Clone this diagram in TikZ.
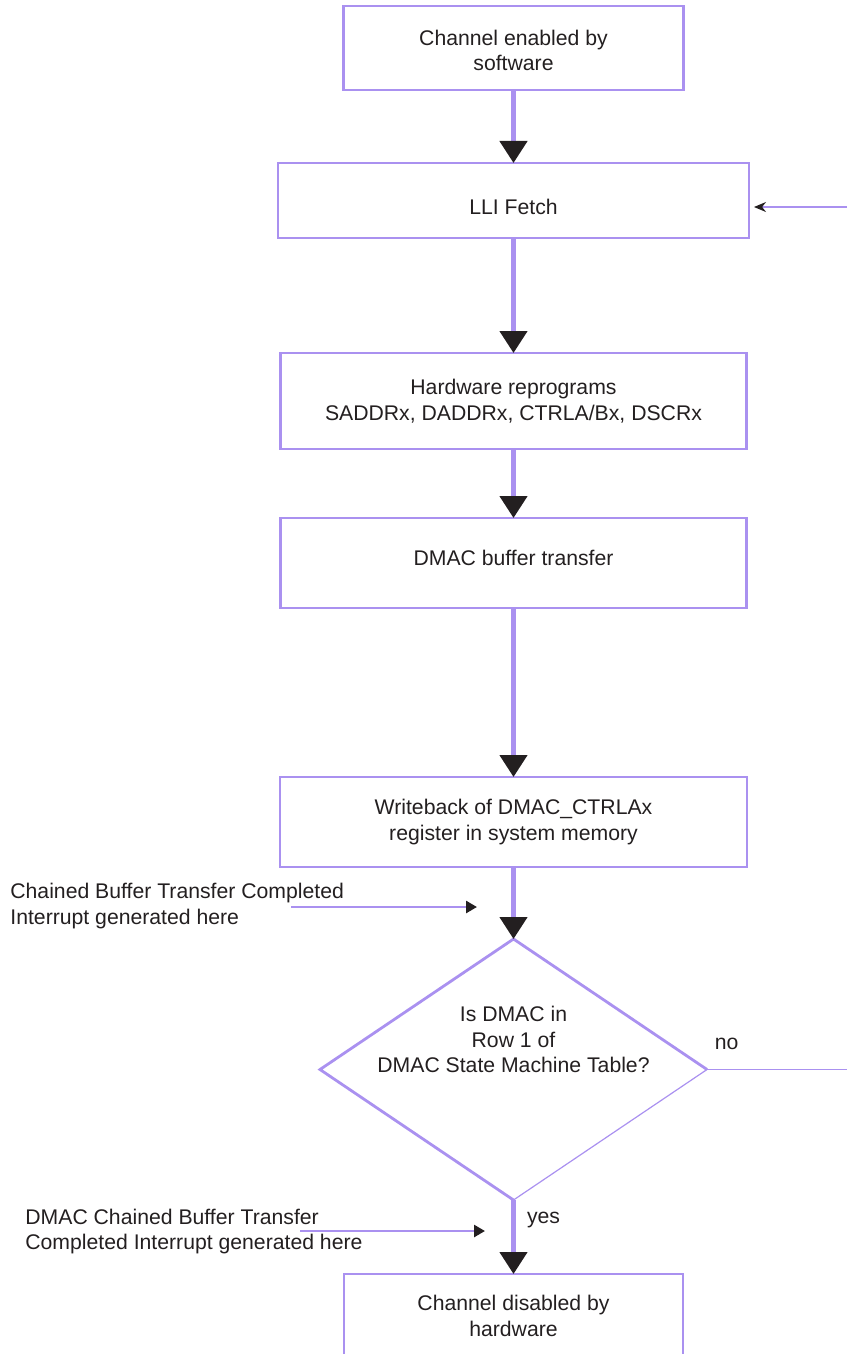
\documentclass[tikz,border=0pt]{standalone}
\usepackage{fontspec}
\setmainfont{Liberation Sans}
\usetikzlibrary{arrows.meta, positioning, shapes.geometric}
\definecolor{flowline}{RGB}{170,145,240}
\definecolor{inkc}{RGB}{35,31,32}

\begin{document}
\begin{tikzpicture}[
        x=0.5pt, y=-0.5pt,
        font=\fontsize{10.6}{12.75}\selectfont,
        text=inkc,
        >={Triangle[length=11pt, width=13.5pt, color=inkc]},
        box/.style={draw=flowline, line width=1.4pt, align=center, outer sep=0pt, inner sep=2pt},
        decision/.style={diamond, draw=none, inner sep=0pt, outer sep=0pt, minimum width=193.5pt, minimum height=130.5pt},
        flow/.style={->, draw=flowline, line width=2.3pt},
        note/.style={-{Triangle[length=5.5pt, width=6pt, color=inkc]}, draw=flowline, line width=1.3pt},
        loopln/.style={draw=flowline, line width=0.65pt},
        lbl/.style={align=left, inner sep=0pt}
    ]
        \useasboundingbox (0,0) rectangle (847,1354);
        \clip (0,0) rectangle (847,1354);

        % --- Chain set-up ---
        \node[box, minimum width=170pt, minimum height=42pt, text height=23pt, text depth=0pt] (enable) at (513.5,48) {Channel enabled by\\software};
        \node[box, minimum width=235.5pt, minimum height=37.5pt, text height=13.6pt, text depth=0pt, below=36.5pt of enable] (fetch) {LLI Fetch};
        \node[box, minimum width=233pt, minimum height=48pt, below=57.5pt of fetch] (reprog) {Hardware reprograms\\SADDRx, DADDRx, CTRLA/Bx, DSCRx};
        \node[box, minimum width=233pt, minimum height=45pt, text depth=5pt, below=34.5pt of reprog] (xfer) {DMAC buffer transfer};
        \node[box, minimum width=233.5pt, minimum height=45pt, below=84.5pt of xfer] (wb) {Writeback of DMAC\_CTRLAx\\register in system memory};

        \draw[flow] (enable.south) -- (fetch.north);
        \draw[flow] (fetch.south) -- (reprog.north);
        \draw[flow] (reprog.south) -- (xfer.north);
        \draw[flow] (xfer.south) -- (wb.north);

        % --- Decision ---
        \node[decision, below=36pt of wb] (row) {};
        \draw[flowline, line width=1.4pt, line join=miter] (row.east) -- (row.north) -- (row.west) -- (row.south);
        \draw[flowline, line width=0.6pt] (row.south) -- (row.east);
        \node[align=center] (rowq) at ([yshift=15pt]row.center) {Is DMAC in\\Row 1 of\\DMAC State Machine Table?};
        \draw[flow] (wb.south) -- (row.north);

        \node[box, minimum width=169.5pt, minimum height=42pt, below=37pt of row] (off) {Channel disabled by\\hardware};
        \draw[flow] (row.south) -- node[pos=0.27, xshift=15pt] {yes} (off.north);

        % --- Loop back to the fetch ---
        \coordinate (ret) at (847,207);
        \draw[loopln] (row.east) -- node[pos=0.14, yshift=13pt] {no} (row.east -| ret);
        \draw[loopln, -{Stealth[length=6pt, width=5pt, color=inkc]}, shorten >=2.5pt] (ret) -- (ret -| fetch.east);

        % --- Interrupt notes ---
        \node[lbl, anchor=west] (irqa) at (10,906) {Chained Buffer Transfer Completed\\Interrupt generated here};
        \coordinate (irqas) at (291,907);
        \coordinate (irqae) at (477,907);
        \draw[note] (irqas) -- (irqae);

        \node[lbl, anchor=west] (irqb) at (25,1231.5) {DMAC Chained Buffer Transfer\\Completed Interrupt generated here};
        \coordinate (irqbs) at (300,1231);
        \coordinate (irqbe) at (485,1231);
        \draw[note] (irqbs) -- (irqbe);
    \end{tikzpicture}
\end{document}
